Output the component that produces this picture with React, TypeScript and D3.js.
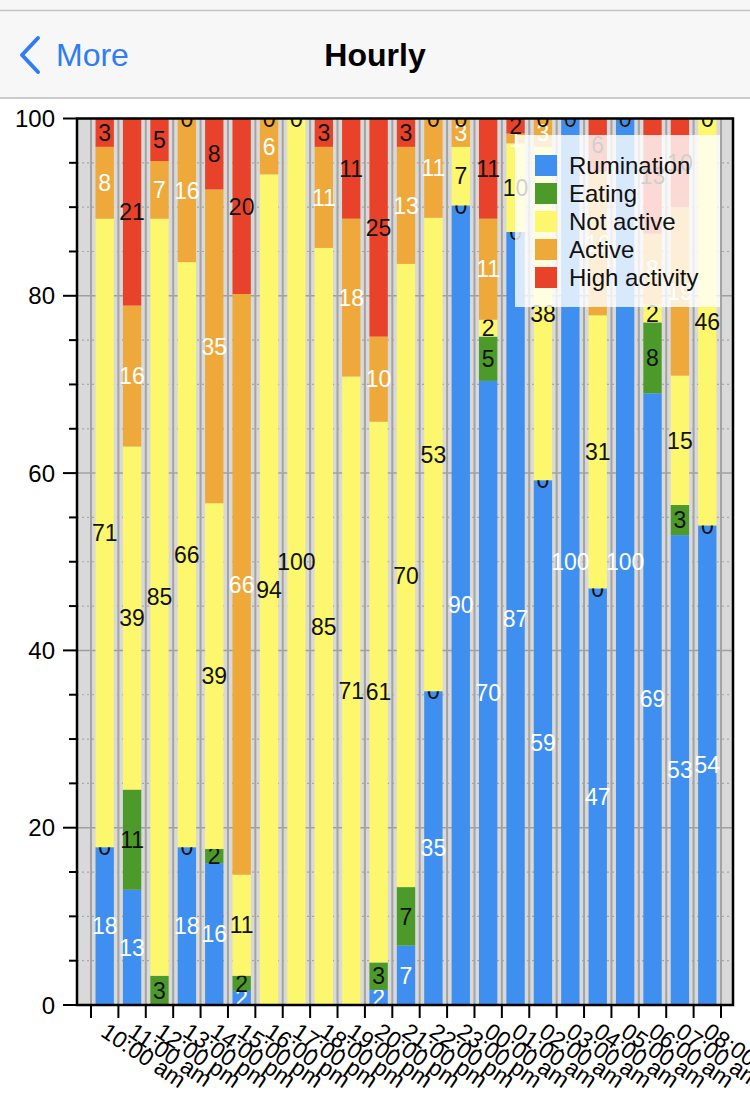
import React from "react";
import * as d3 from "d3";

// hourly activity share (%)
const hours = [
  "10:00 am", "11:00 am", "12:00 pm", "13:00 pm", "14:00 pm", "15:00 pm",
  "16:00 pm", "17:00 pm", "18:00 pm", "19:00 pm", "20:00 pm", "21:00 pm",
  "22:00 pm", "23:00 pm", "00:00 am", "01:00 am", "02:00 am", "03:00 am",
  "04:00 am", "05:00 am", "06:00 am", "07:00 am", "08:00 am",
];
const rumination = [17.8, 13, 0, 17.8, 16, 1.6, 0, 0, 0, 0, 1.7, 6.7, 35.4, 90.2, 70.4, 87.2, 59.2, 100, 47, 100, 69, 53, 54.1];
const eating = [0, 11.3, 3.3, 0, 1.6, 1.7, 0, 0, 0, 0, 3.1, 6.6, 0, 0, 5, 0, 0, 0, 0, 0, 8, 3.4, 0];
const notActive = [70.9, 38.7, 85.4, 66, 39, 11.4, 93.7, 100, 85.4, 70.9, 61, 70.3, 53.4, 6.6, 1.9, 10, 37.6, 0, 30.8, 0, 2, 14.6, 45.9];
const active = [8.1, 15.9, 6.5, 16.2, 35.4, 65.5, 6.3, 0, 11.4, 17.8, 9.6, 13.2, 11.2, 3.2, 11.4, 1.1, 3.2, 0, 16.2, 0, 8, 19, 0];
const highActivity = [3.2, 21.1, 4.8, 0, 8, 19.8, 0, 0, 3.2, 11.3, 24.6, 3.2, 0, 0, 11.3, 1.7, 0, 0, 6, 0, 13, 10, 0];

const seriesNames = ["Rumination", "Eating", "Not active", "Active", "High activity"];
const yTicks = [0, 20, 40, 60, 80, 100];

const colors = ["#3f8ff0", "#4c9a2a", "#fcf76c", "#efa93a", "#e8432a"];
const labelColors = ["#fff", "#111", "#111", "#fff", "#111"];

const FONT = "'Liberation Sans', Arial, Helvetica, sans-serif";

const W = 750;
const H = 1100;
const plot = { left: 77, right: 733, top: 118.5, bottom: 1005 };

export default function App() {
  const table = hours.map((h, i) => ({
    hour: h,
    Rumination: rumination[i],
    Eating: eating[i],
    "Not active": notActive[i],
    Active: active[i],
    "High activity": highActivity[i],
  }));

  const stacked = d3.stack<any>().keys(seriesNames)(table);

  const x = d3.scaleBand<string>()
    .domain(hours)
    .range([91, 721])
    .paddingInner(0.33)
    .paddingOuter(0.165);

  const y = d3.scaleLinear().domain([0, 100]).range([plot.bottom, plot.top]);

  const step = x.step();
  const firstEdge = (x(hours[0]) as number) - (step * x.paddingInner()) / 2;
  const edges = d3.range(hours.length + 1).map((i) => firstEdge + i * step);
  const minorTicks = d3.range(0, 101, 5);

  return (
    <svg width={W} height={H} style={{ position: "absolute", left: 0, top: 0, background: "#fff" }} fontFamily={FONT}>
      {/* nav bar */}
      <rect x={0} y={0} width={W} height={98} fill="#f7f7f7" />
      <line x1={0} x2={W} y1={10.5} y2={10.5} stroke="#c4c4c4" strokeWidth={1.5} />
      <line x1={0} x2={W} y1={98} y2={98} stroke="#bdbdbd" strokeWidth={1.5} />
      <path d="M38,38 L22,55 L38,72" fill="none" stroke="#2f7cf6" strokeWidth={4} strokeLinecap="round" strokeLinejoin="round" />
      <text x={56} y={66} fontSize={32} fill="#2f7cf6">More</text>
      <text x={375} y={66} fontSize={32} fontWeight="bold" textAnchor="middle" fill="#000">Hourly</text>

      <defs>
        <clipPath id="plotClip">
          <rect x={plot.left} y={plot.top} width={plot.right - plot.left} height={plot.bottom - plot.top} />
        </clipPath>
      </defs>

      {/* plot background + grid */}
      <rect x={plot.left} y={plot.top} width={plot.right - plot.left} height={plot.bottom - plot.top} fill="#d9d9d9" />
      {minorTicks.filter((t) => t % 20 !== 0).map((t) => (
        <line key={"mg" + t} x1={plot.left} x2={plot.right} y1={y(t)} y2={y(t)} stroke="#a8a8a8" strokeWidth={1.2} strokeDasharray="2,3" />
      ))}
      {yTicks.map((t) => (
        <line key={"g" + t} x1={plot.left} x2={plot.right} y1={y(t)} y2={y(t)} stroke="#a0a0a0" strokeWidth={1.5} />
      ))}
      {edges.map((e, i) => (
        <line key={"vg" + i} x1={e} x2={e} y1={plot.top} y2={plot.bottom} stroke="#a3a3a3" strokeWidth={2} />
      ))}

      {/* stacked bars with value labels, series by series */}
      <g clipPath="url(#plotClip)">
        {stacked.map((layer, si) => (
          <g key={layer.key}>
            {layer.map((d, i) => (
              <rect
                key={i}
                x={x(hours[i])}
                y={y(d[1])}
                width={x.bandwidth()}
                height={y(d[0]) - y(d[1])}
                fill={colors[si]}
              />
            ))}
            {layer.map((d, i) => (
              <text
                key={"t" + i}
                x={(x(hours[i]) as number) + x.bandwidth() / 2}
                y={y((d[0] + d[1]) / 2)}
                dy="0.36em"
                textAnchor="middle"
                fontSize={23}
                fill={labelColors[si]}
              >
                {Math.round(d[1] - d[0])}
              </text>
            ))}
          </g>
        ))}
      </g>

      {/* frame */}
      <rect x={plot.left} y={plot.top} width={plot.right - plot.left} height={plot.bottom - plot.top} fill="none" stroke="#000" strokeWidth={2.5} />

      {/* y axis */}
      {minorTicks.map((t) => (
        <line key={"yt" + t} x1={t % 20 === 0 ? 63 : 69} x2={plot.left} y1={y(t)} y2={y(t)} stroke="#000" strokeWidth={2} />
      ))}
      {yTicks.map((t) => (
        <text key={"yl" + t} x={55} y={y(t)} dy="0.36em" textAnchor="end" fontSize={24} fill="#000">{t}</text>
      ))}

      {/* x axis */}
      {edges.map((e, i) => (
        <line key={"xt" + i} x1={e} x2={e} y1={plot.bottom} y2={1018} stroke="#000" strokeWidth={2} />
      ))}
      {hours.map((h) => (
        <text
          key={"xl" + h}
          transform={`translate(${(x(h) as number) + x.bandwidth() / 2 + 5},1020) rotate(34)`}
          dy="0.8em"
          fontSize={23}
          fill="#000"
        >
          {h}
        </text>
      ))}

      {/* legend */}
      <rect x={515} y={135} width={205} height={172} fill="#fff" fillOpacity={0.8} />
      {seriesNames.map((s, i) => (
        <g key={"lg" + s} transform={`translate(535,${165 + i * 28})`}>
          <rect x={0} y={-10} width={22} height={21} fill={colors[i]} />
          <text x={34} y={0} dy="0.36em" fontSize={24} fill="#111">{s}</text>
        </g>
      ))}
    </svg>
  );
}
